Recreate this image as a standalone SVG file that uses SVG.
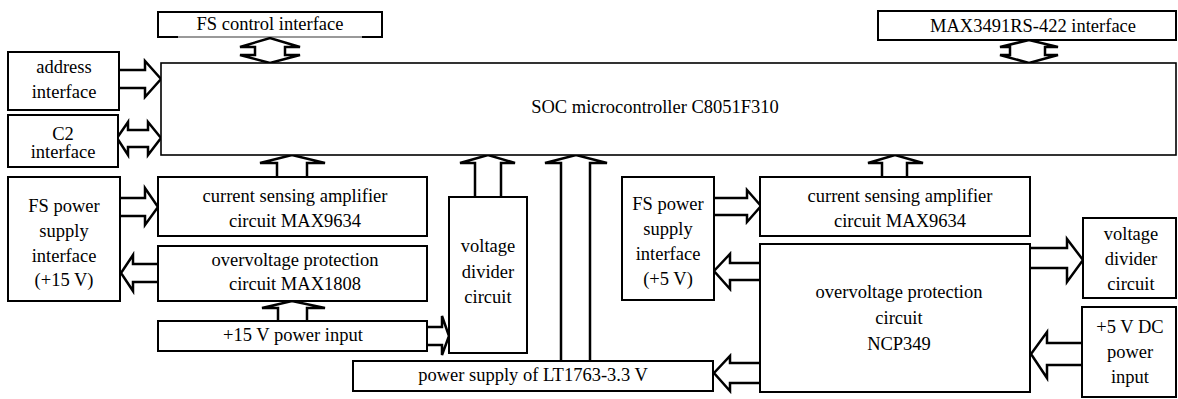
<svg xmlns="http://www.w3.org/2000/svg" width="1178" height="399" viewBox="0 0 1178 399">
<style>
.box{fill:#fff;stroke:#000;stroke-width:2}
.ar{fill:#fff;stroke:#000;stroke-width:2.5;stroke-linejoin:miter}
text{font-family:"Liberation Serif","Times New Roman",serif;font-size:18.5px;fill:#000;text-anchor:middle}
</style>
<rect width="1178" height="399" fill="#fff"/>
<g id="connectors">
<path class="ar" d="M255,47 L240,47 L270,38 L300,47 L285,47 L285,55 L300,55 L270,63 L240,55 L255,55 Z"/>
<path class="ar" d="M1010,47 L1000,47 L1029,40 L1058,47 L1045,47 L1045,55 L1058,55 L1029,63 L1000,55 L1010,55 Z"/>
<path class="ar" d="M119,70 L145,70 L145,61 L161,79 L145,97 L145,88 L119,88"/>
<path class="ar" d="M128,130 L128,122 L117,138 L128,155 L128,147 L148,147 L148,155 L161,138 L148,122 L148,130 Z"/>
<path class="ar" d="M277,177 L277,163 L260,163 L292,155 L325,163 L307,163 L307,177"/>
<path class="ar" d="M475,197 L475,163 L460,163 L488,155 L515,163 L501,163 L501,197"/>
<path class="ar" d="M561,361 L561,163 L545,163 L576,155 L607,163 L590,163 L590,361"/>
<path class="ar" d="M882,177 L882,163 L868,163 L895,155 L923,163 L907,163 L907,177"/>
<path class="ar" d="M120,198 L145,198 L145,188 L158,207 L145,225 L145,216 L120,216"/>
<path class="ar" d="M158,264 L133,264 L133,255 L121,273 L133,291 L133,282 L158,282"/>
<path class="ar" d="M278,321 L278,308 L262,308 L292,301 L325,308 L307,308 L307,321"/>
<path class="ar" d="M427,327 L442,327 L442,316 L449,336 L442,355 L442,345 L427,345"/>
<path class="ar" d="M714,198 L747,198 L747,190 L761,206 L747,222 L747,215 L714,215"/>
<path class="ar" d="M760,263 L730,263 L730,254 L714,271 L730,289 L730,280 L760,280"/>
<path class="ar" d="M760,363 L730,363 L730,356 L714,373 L730,391 L730,383 L760,383"/>
<path class="ar" d="M1030,248 L1067,248 L1067,239 L1083,260 L1067,282 L1067,268 L1030,268"/>
<path class="ar" d="M1082,343 L1047,343 L1047,332 L1031,354 L1047,378 L1047,365 L1082,365"/>
</g>
<g id="fs-control"><rect x="158" y="12" width="224" height="25" fill="#fff" stroke="#000" stroke-width="0.8"/><path d="M178,37 L158,37 L158,12 L382,12 L382,37 L362,37" fill="none" stroke="#000" stroke-width="2"/><text x="270" y="30">FS control interface</text></g>
<g id="max3491"><rect class="box" x="878" y="11" width="298" height="29"/><text x="1033" y="32">MAX3491RS-422 interface</text></g>
<g id="address"><rect class="box" x="8" y="52" width="111" height="58"/><text x="64" y="73">address</text><text x="64" y="98">interface</text></g>
<g id="c2"><rect class="box" x="8" y="115" width="110" height="52"/><text x="63" y="140">C2</text><text x="63" y="158">interface</text></g>
<g id="soc"><rect class="box" x="161" y="63" width="1015" height="92" style="stroke-width:1.6"/><text x="655" y="113">SOC microcontroller C8051F310</text></g>
<g id="fs-power-15"><rect class="box" x="8" y="177" width="112" height="124"/><text x="64" y="212">FS power</text><text x="64" y="237">supply</text><text x="64" y="262">interface</text><text x="64" y="286">(+15 V)</text></g>
<g id="cs-left"><rect class="box" x="158" y="177" width="269" height="59"/><text x="295" y="202">current sensing amplifier</text><text x="295" y="227">circuit MAX9634</text></g>
<g id="max1808"><rect class="box" x="158" y="246" width="269" height="55"/><text x="295" y="266">overvoltage protection</text><text x="295" y="290">circuit MAX1808</text></g>
<g id="in-15"><rect class="box" x="158" y="321" width="269" height="30"/><text x="293" y="341">+15 V power input</text></g>
<g id="vdiv-left"><rect class="box" x="449" y="197" width="78" height="156"/><text x="488" y="252">voltage</text><text x="488" y="278">divider</text><text x="488" y="303">circuit</text></g>
<g id="lt1763"><rect class="box" x="353" y="361" width="360" height="30"/><text x="533" y="381">power supply of LT1763-3.3 V</text></g>
<g id="fs-power-5"><rect class="box" x="622" y="177" width="92" height="123"/><text x="668" y="210">FS power</text><text x="668" y="235">supply</text><text x="668" y="260">interface</text><text x="668" y="285">(+5 V)</text></g>
<g id="cs-right"><rect class="box" x="760" y="177" width="270" height="59"/><text x="900" y="202">current sensing amplifier</text><text x="900" y="227">circuit MAX9634</text></g>
<g id="ncp349"><rect class="box" x="760" y="244" width="270" height="148"/><text x="899" y="298">overvoltage protection</text><text x="899" y="324">circuit</text><text x="899" y="350">NCP349</text></g>
<g id="vdiv-right"><rect class="box" x="1083" y="218" width="93" height="80"/><text x="1131" y="240">voltage</text><text x="1131" y="265">divider</text><text x="1131" y="290">circuit</text></g>
<g id="in-5"><rect class="box" x="1082" y="307" width="94" height="90"/><text x="1130" y="333">+5 V DC</text><text x="1130" y="358">power</text><text x="1130" y="383">input</text></g>
</svg>
